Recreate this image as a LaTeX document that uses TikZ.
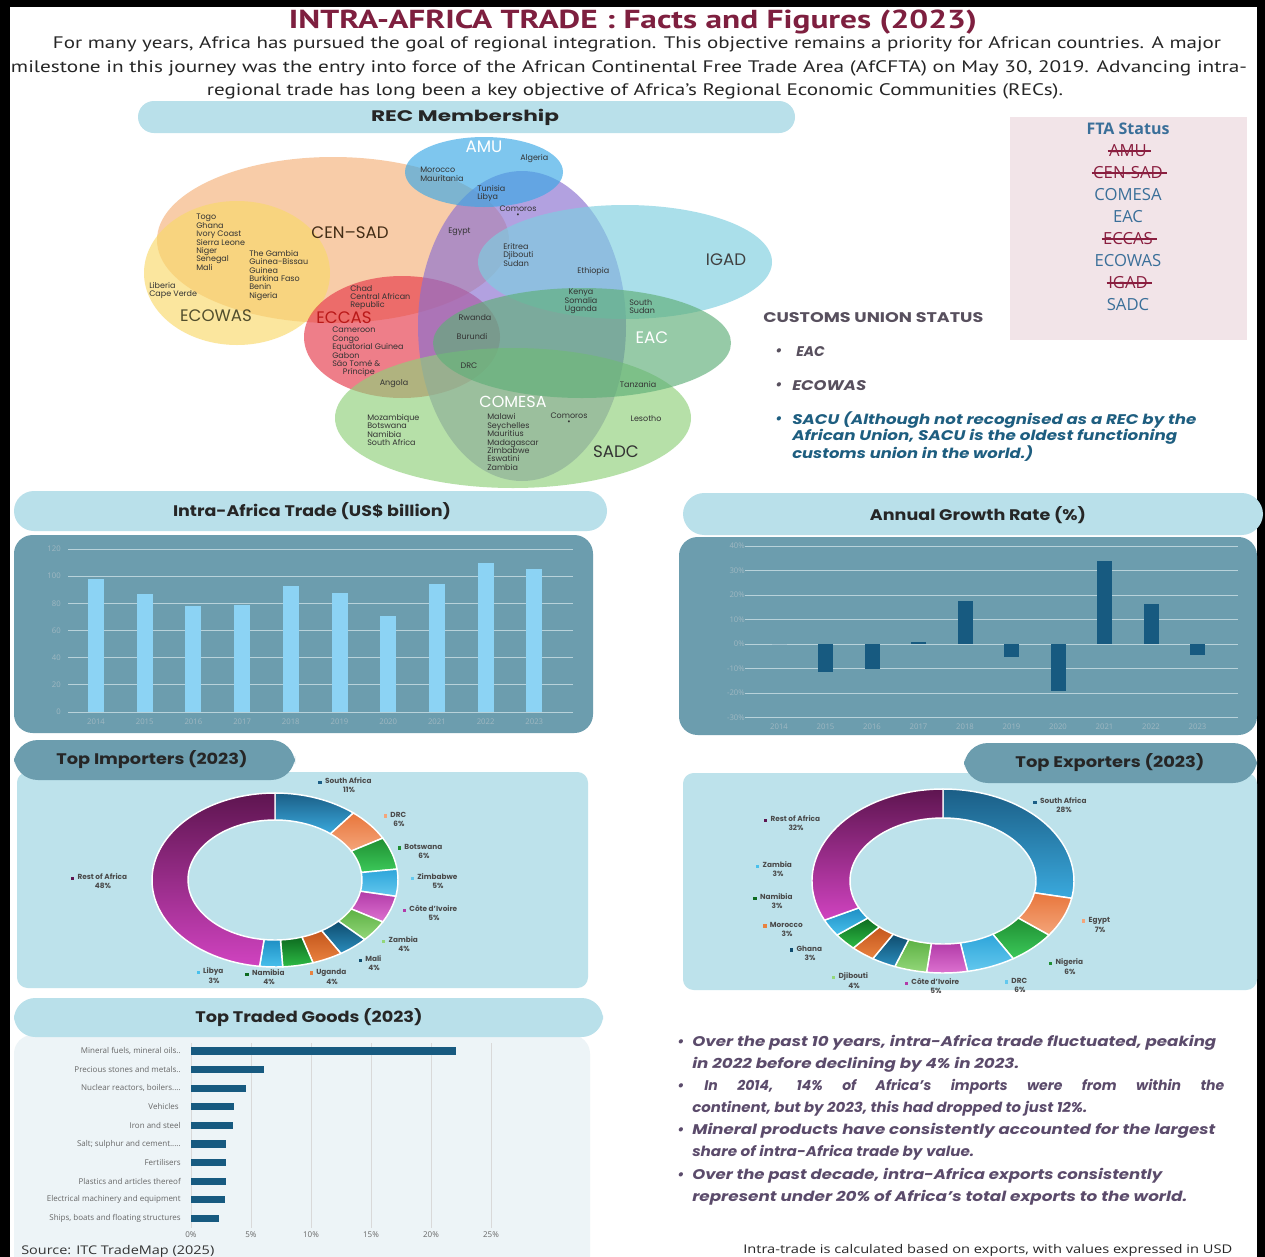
\documentclass[tikz,border=0pt]{standalone}
\usepackage{fontspec}
\usepackage{graphicx}
\setmainfont{Poppins}
\newfontfamily\condf{PT Sans}
\newfontfamily\osans{Open Sans}
\newdimen\fu \fu=0.75pt
\newcommand\fitw[2]{\resizebox{#1\fu}{\height}{#2}}
\usetikzlibrary{calc}
\definecolor{titlered}{HTML}{7E1F3F}
\definecolor{paratext}{HTML}{262626}
\definecolor{pillblue}{HTML}{B9E0EA}
\definecolor{tealpanel}{HTML}{6C9DAE}
\definecolor{lightpanel}{HTML}{BDE2EB}
\definecolor{goodspanel}{HTML}{EDF4F7}
\definecolor{barlight}{HTML}{8CD3F4}
\definecolor{bardark}{HTML}{175A80}
\definecolor{ftabox}{HTML}{F2E4E8}
\definecolor{ftablue}{HTML}{3A6F99}
\definecolor{ftastrike}{HTML}{8A1E3F}
\definecolor{cugray}{HTML}{58505E}
\definecolor{sacublue}{HTML}{1E5E80}
\definecolor{bulletpurple}{HTML}{5B4B6B}
\definecolor{gridc}{HTML}{B8D2DA}
\definecolor{axislbl}{HTML}{9FB8C2}
\definecolor{vtext}{HTML}{333333}
\definecolor{dlabc}{HTML}{4A4A4A}
% venn
\definecolor{cCEN}{HTML}{F5B27A}
\definecolor{cECO}{HTML}{F9D96A}
\definecolor{cAMU}{HTML}{3AA8E6}
\definecolor{cCOM}{HTML}{8A6FD0}
\definecolor{cIGA}{HTML}{7DCFE0}
\definecolor{cEAC}{HTML}{5FAF78}
\definecolor{cECC}{HTML}{E63A4A}
\definecolor{cSAD}{HTML}{8FD07A}
% slices
\definecolor{saT}{HTML}{1B5E86}\definecolor{saB}{HTML}{3AA9DD}
\definecolor{orT}{HTML}{E8763C}\definecolor{orB}{HTML}{F4A57A}
\definecolor{grT}{HTML}{1F8F32}\definecolor{grB}{HTML}{3CC95A}
\definecolor{lbT}{HTML}{2EA5DA}\definecolor{lbB}{HTML}{63C8EE}
\definecolor{mgT}{HTML}{B23BA8}\definecolor{mgB}{HTML}{DD72D0}
\definecolor{lgT}{HTML}{5DB143}\definecolor{lgB}{HTML}{93D77A}
\definecolor{dbT}{HTML}{0F4C6E}\definecolor{dbB}{HTML}{2A8DBD}
\definecolor{obT}{HTML}{C4561C}\definecolor{obB}{HTML}{E9823F}
\definecolor{dgT}{HTML}{0E6B20}\definecolor{dgB}{HTML}{2DBB45}
\definecolor{blT}{HTML}{1E8FC4}\definecolor{blB}{HTML}{48C0EC}
\definecolor{puT}{HTML}{5E1550}\definecolor{puB}{HTML}{D043C0}
\tikzset{
  venn/.style={fill=#1, fill opacity=0.65},
  vs/.style={font=\fontsize{6}{6.3}\selectfont, text=vtext, inner sep=0pt, align=left},
  vbig/.style={font=\fontsize{12.5}{14}\selectfont, inner sep=0pt},
  titlef/.style={font=\condf\bfseries\fontsize{19.5}{22}\selectfont, text=titlered, inner sep=0pt},
  paraf/.style={font=\condf\fontsize{12.5}{15}\selectfont, text=paratext, inner sep=0pt},
  headf/.style={font=\bfseries\fontsize{11.5}{13}\selectfont, text=black!85, inner sep=0pt},
  ftaf/.style={font=\osans\fontsize{12.5}{14}\selectfont, text=ftablue, inner sep=1pt},
  ftas/.style={font=\osans\fontsize{12.5}{14}\selectfont, text=ftastrike, inner sep=1pt},
  cuf/.style={font=\bfseries\itshape\fontsize{10.5}{12}\selectfont, inner sep=0pt, anchor=west},
  blf/.style={font=\bfseries\itshape\fontsize{10.5}{12}\selectfont, text=bulletpurple, inner sep=0pt, anchor=west},
  axl/.style={font=\osans\fontsize{5.8}{7}\selectfont, text=axislbl, inner sep=0pt},
  gl/.style={font=\osans\fontsize{6}{7}\selectfont, text=black!60, inner sep=0pt},
  dlab/.style={font=\bfseries\fontsize{5.5}{6}\selectfont, text=dlabc, inner sep=0pt},
  sep/.style={draw=white, line width=1.1pt}
}
\newcommand\dl[6]{\node[dlab] (#1) at (#2,#3) {\textcolor{#4}{\rule{2.5pt}{2.5pt}}\hspace{2.5pt}#5};
  \node[dlab] (#1p) at ({#2+4},{#3+8.5}) {#6};}
\begin{document}
\begin{tikzpicture}[x=0.75pt,y=-0.75pt]
\useasboundingbox (0,0) rectangle (1265,1257);
\fill[black] (0,0) rectangle (1265,1257);
\fill[white] (10,7) rectangle (1257,1257);

% ---------------- title
\node[titlef] (title) at (633,22) {\fitw{688}{INTRA-AFRICA TRADE : Facts and Figures (2023)}};
\node[paraf] (p1) at (637,44) {\fitw{1168}{For many years, Africa has pursued the goal of regional integration. This objective remains a priority for African countries. A major}};
\node[paraf] (p2) at (629,68) {\fitw{1236}{milestone in this journey was the entry into force of the African Continental Free Trade Area (AfCFTA) on May 30, 2019. Advancing intra-}};
\node[paraf] (p3) at (635,91) {\fitw{856}{regional trade has long been a key objective of Africa’s Regional Economic Communities (RECs).}};

% ---------------- REC membership
\fill[pillblue, rounded corners=12pt] (138,101) rectangle (795,133);
\node[headf] (rec) at (465,117) {\fitw{188}{REC Membership}};

\fill[venn=cCEN] (333,240) ellipse [x radius=176, y radius=83];
\fill[venn=cECO] (237,273) ellipse [x radius=93, y radius=72];
\fill[venn=cECC] (402,337) ellipse [x radius=98, y radius=61];
\fill[venn=cCOM] (522,326) ellipse [x radius=104, y radius=155];
\fill[venn=cIGA] (625,262) ellipse [x radius=147, y radius=57];
\fill[venn=cAMU] (484,172) ellipse [x radius=79, y radius=35];
\fill[venn=cSAD] (513,418) ellipse [x radius=178, y radius=70];
\fill[venn=cEAC] (582,343) ellipse [x radius=149, y radius=55];

\node[vbig, text=white] (lAMU) at (484,147) {AMU};
\node[vbig, text=black!65!brown] (lCEN) at (350,233) {CEN–SAD};
\node[vbig, text=black!75] (lIGAD) at (726,260) {IGAD};
\node[vbig, text=black!55!olive] (lECOWAS) at (216,316) {ECOWAS};
\node[vbig, text=red!70!black!90] (lECCAS) at (344,318) {ECCAS};
\node[vbig, text=white] (lEAC) at (652,338) {EAC};
\node[vbig, text=white, font=\fontsize{12}{13}\selectfont] (lCOMESA) at (513,402) {COMESA};
\node[vbig, text=black!80] (lSADC) at (616,452) {SADC};

\node[vs, anchor=west] (algeria) at (520,159) {Algeria};
\node[vs, anchor=north west] (mormau) at (420,167) {Morocco\\Mauritania};
\node[vs, anchor=north west] (tunlib) at (477,185) {Tunisia\\Libya};
\node[vs] (comoros1) at (518,209) {Comoros};
\node[vs] (dot1) at (518,216) {•};
\node[vs, anchor=west] (egypt) at (448,232) {Egypt};
\node[vs, anchor=north west] (eds) at (503,243) {Eritrea\\Djibouti\\Sudan};
\node[vs, anchor=west] (eth) at (577,271) {Ethiopia};
\node[vs, anchor=north, align=center] (kenya) at (581,289) {Kenya\\Somalia\\Uganda};
\node[vs, anchor=north west] (ssudan) at (629,299) {South\\Sudan};
\node[vs, anchor=north west] (togo) at (196,214) {Togo\\Ghana\\Ivory Coast\\Sierra Leone\\Niger\\Senegal\\Mali};
\node[vs, anchor=north west] (gambia) at (249,250) {The Gambia\\Guinea-Bissau\\Guinea\\Burkina Faso\\Benin\\Nigeria};
\node[vs, anchor=north west] (liberia) at (149,282) {Liberia\\Cape Verde};
\node[vs, anchor=north west] (chad) at (350,285) {Chad\\Central African\\Republic};
\node[vs, anchor=north west] (cameroon) at (332,327) {Cameroon\\Congo\\Equatorial Guinea\\Gabon\\São Tomé \&\\\hspace*{8pt}Príncipe};
\node[vs] (angola) at (394,384) {Angola};
\node[vs] (rwanda) at (475,318) {Rwanda};
\node[vs] (burundi) at (472,336) {Burundi};
\node[vs] (drc) at (469,366) {DRC};
\node[vs] (tanz) at (638,384) {Tanzania};
\node[vs, anchor=north west] (moz) at (367,414) {Mozambique\\Botswana\\Namibia\\South Africa};
\node[vs, anchor=north west] (malawi) at (487,413.5) {Malawi\\Seychelles\\Mauritius\\Madagascar\\Zimbabwe\\Eswatini\\Zambia};
\node[vs] (comoros2) at (569,416) {Comoros};
\node[vs] (dot2) at (569,423) {•};
\node[vs] (lesotho) at (646,419) {Lesotho};

% ---------------- FTA status
\fill[ftabox] (1010,117) rectangle (1247,340);
\node[ftaf, font=\osans\bfseries\fontsize{12}{14}\selectfont] (fta) at (1128,129) {FTA Status};
\node[ftas] (fAMU) at (1128,151) {AMU};
\node[ftas] (fCEN) at (1128,173) {CEN-SAD};
\node[ftaf] (fCOM) at (1128,195) {COMESA};
\node[ftaf] (fEAC) at (1128,217) {EAC};
\node[ftas] (fECC) at (1128,239) {ECCAS};
\node[ftaf] (fECO) at (1128,261) {ECOWAS};
\node[ftas] (fIGA) at (1128,283) {IGAD};
\node[ftaf] (fSAD) at (1128,305) {SADC};
\foreach \n in {fAMU,fCEN,fECC,fIGA}
  \draw[ftastrike, line width=0.8pt] (\n.west) -- ([xshift=2pt]\n.east);

% ---------------- customs union
\node[font=\bfseries\fontsize{10.5}{12}\selectfont, text=cugray, inner sep=0pt, anchor=west] (cu) at (763,318) {\fitw{220}{CUSTOMS UNION STATUS}};
\node[cuf, text=cugray] (cud1) at (775,352) {•};
\node[cuf, text=cugray] (cu1) at (796,352) {EAC};
\node[cuf, text=cugray] (cud2) at (775,386) {•};
\node[cuf, text=cugray] (cu2) at (792,386) {\fitw{74}{ECOWAS}};
\node[cuf, text=sacublue] (cud3) at (775,420) {•};
\node[cuf, text=sacublue] (cu3) at (792,420) {\fitw{404}{SACU (Although not recognised as a REC by the}};
\node[cuf, text=sacublue] (cu4) at (792,437) {\fitw{385}{African Union, SACU is the oldest functioning}};
\node[cuf, text=sacublue] (cu5) at (792,454) {\fitw{241}{customs union in the world.)}};

% ---------------- chart 1
\fill[tealpanel, rounded corners=14pt] (14,535) rectangle (593,733);
\fill[pillblue, rounded corners=15pt] (14,491) rectangle (607,531);
\node[headf] (h1) at (312,511) {\fitw{278}{Intra-Africa Trade (US\$ billion)}};
\foreach \v in {0,20,...,120}{
  \draw[gridc, line width=0.6pt] (68,{712-1.358*\v}) -- (573,{712-1.358*\v});
  \node[axl, anchor=east] (ya\v) at (61,{712-1.358*\v}) {\v};
}
\foreach \i/\v [evaluate=\i as \yr using int(2014+\i)] in {0/98,1/87,2/78,3/79,4/92.5,5/87.5,6/71,7/94.5,8/110,9/105.5}{
  \fill[barlight] ({96+48.7*\i-8},712) rectangle ({96+48.7*\i+8},{712-1.358*\v});
  \node[axl] (xa\i) at ({96+48.7*\i},722) {\yr};
}

% ---------------- chart 2
\fill[tealpanel, rounded corners=14pt] (679,537) rectangle (1257,735);
\fill[pillblue, rounded corners=16pt] (683,493) rectangle (1263,535);
\node[headf] (h2) at (978,515) {\fitw{216}{Annual Growth Rate (\%)}};
\foreach \v in {-30,-20,...,40}{
  \draw[gridc, line width=0.6pt] (745,{644-2.45*\v}) -- (1238,{644-2.45*\v});
  \node[axl, anchor=east] (yb\v) at (745,{644-2.45*\v}) {\v\%};
}
\foreach \i/\v [evaluate=\i as \yr using int(2014+\i)] in {0/0,1/-11.5,2/-10.2,3/1,4/17.5,5/-5.5,6/-19,7/33.8,8/16.3,9/-4.4}{
  \fill[bardark] ({779+46.5*\i-7.5},644) rectangle ({779+46.5*\i+7.5},{644-2.45*\v});
  \node[axl] (xb\i) at ({779+46.5*\i},727) {\yr};
}

% ---------------- importers
\fill[lightpanel, rounded corners=8pt] (17,772) rectangle (588,988);
\fill[tealpanel, rounded corners=18pt] (14,740) rectangle (295,780);
\node[headf] (h3) at (152,760) {\fitw{191}{Top Importers (2023)}};
\begin{scope}[shift={(275,880)}]
\def\Rx{123}\def\Ry{87}\def\rx{87}\def\ry{60}
\foreach \s/\e/\ct/\cb in {0/11/saT/saB, 11/17/orT/orB, 17/23/grT/grB, 23/28/lbT/lbB, 28/33/mgT/mgB, 33/37/lgT/lgB, 37/41/dbT/dbB, 41/45/obT/obB, 45/49/dgT/dgB, 49/52/blT/blB, 52/100/puT/puB}{
  \pgfmathsetmacro\aa{-90+3.6*\s}
  \pgfmathsetmacro\bb{-90+3.6*\e}
  \path[sep, top color=\ct, bottom color=\cb] ({\Rx*cos(\aa)},{\Ry*sin(\aa)}) arc[start angle=\aa, end angle=\bb, x radius=\Rx, y radius=\Ry] -- ({\rx*cos(\bb)},{\ry*sin(\bb)}) arc[start angle=\bb, end angle=\aa, x radius=\rx, y radius=\ry] -- cycle;
}
\end{scope}
\dl{iSA}{345}{781}{saT}{South Africa}{11\%}
\dl{iDRC}{395}{815}{orB}{DRC}{6\%}
\dl{iBOT}{420}{847}{grT}{Botswana}{6\%}
\dl{iZIM}{434}{877}{lbB}{Zimbabwe}{5\%}
\dl{iCIV}{430}{909}{mgT}{Côte d’Ivoire}{5\%}
\dl{iZAM}{400}{940}{lgB}{Zambia}{4\%}
\dl{iMAL}{370}{959}{dbT}{Mali}{4\%}
\dl{iUGA}{328}{973}{obB}{Uganda}{4\%}
\dl{iNAM}{265}{973}{dgT}{Namibia}{4\%}
\dl{iLIB}{210}{972}{blB}{Libya}{3\%}
\dl{iRST}{99}{877}{puT}{Rest of Africa}{48\%}

% ---------------- exporters
\fill[lightpanel, rounded corners=8pt] (683,773) rectangle (1257,990);
\fill[tealpanel, rounded corners=18pt] (964,743) rectangle (1257,783);
\node[headf] (h4) at (1110,763) {\fitw{189}{Top Exporters (2023)}};
\begin{scope}[shift={(943,881)}]
\def\Rx{131}\def\Ry{92}\def\rx{93}\def\ry{63}
\foreach \s/\e/\ct/\cb in {0/28/saT/saB, 28/35/orT/orB, 35/41/grT/grB, 41/47/lbT/lbB, 47/52/mgT/mgB, 52/56/lgT/lgB, 56/59/dbT/dbB, 59/62/obT/obB, 62/65/dgT/dgB, 65/68/blT/blB, 68/100/puT/puB}{
  \pgfmathsetmacro\aa{-90+3.6*\s}
  \pgfmathsetmacro\bb{-90+3.6*\e}
  \path[sep, top color=\ct, bottom color=\cb] ({\Rx*cos(\aa)},{\Ry*sin(\aa)}) arc[start angle=\aa, end angle=\bb, x radius=\Rx, y radius=\Ry] -- ({\rx*cos(\bb)},{\ry*sin(\bb)}) arc[start angle=\bb, end angle=\aa, x radius=\rx, y radius=\ry] -- cycle;
}
\end{scope}
\dl{eSA}{1060}{801}{saT}{South Africa}{28\%}
\dl{eEGY}{1096}{921}{orB}{Egypt}{7\%}
\dl{eNIG}{1066}{963}{grT}{Nigeria}{6\%}
\dl{eDRC}{1016}{981}{lbB}{DRC}{6\%}
\dl{eCIV}{932}{982}{mgT}{Côte d’Ivoire}{5\%}
\dl{eDJI}{850}{977}{lgB}{Djibouti}{4\%}
\dl{eGHA}{806}{949}{dbT}{Ghana}{3\%}
\dl{eMOR}{783}{925}{obB}{Morocco}{3\%}
\dl{eNAM}{773}{897}{dgT}{Namibia}{3\%}
\dl{eZAM}{774}{865}{blB}{Zambia}{3\%}
\dl{eRST}{792}{819}{puT}{Rest of Africa}{32\%}

% ---------------- goods
\fill[goodspanel, rounded corners=14pt] (14,1035) rectangle (590,1275);
\fill[pillblue, rounded corners=16pt] (14,998) rectangle (603,1037);
\node[headf] (h5) at (309,1018) {\fitw{227}{Top Traded Goods (2023)}};
\foreach \p in {0,5,...,25}{
  \draw[black!15, line width=0.6pt] ({191+12*\p},1043) -- ({191+12*\p},1228);
  \node[gl] (gx\p) at ({191+12*\p},1235) {\p\%};
}
\foreach \i/\v/\t in {0/22.1/{Mineral fuels, mineral oils..}, 1/6.1/{Precious stones and metals..}, 2/4.6/{Nuclear reactors, boilers....}, 3/3.6/{Vehicles\ \ }, 4/3.5/{Iron and steel}, 5/2.9/{Salt; sulphur and cement.....}, 6/2.9/{Fertilisers}, 7/2.9/{Plastics and articles thereof}, 8/2.8/{Electrical machinery and equipment\ }, 9/2.3/{Ships, boats and floating structures}}{
  \fill[bardark] (191,{1051+18.6*\i-3.6}) rectangle ({191+12*\v},{1051+18.6*\i+3.6});
  \node[gl, anchor=east] (gl\i) at (181,{1051+18.6*\i}) {\t};
}
\node[font=\osans\fontsize{9}{11}\selectfont, text=black!80, anchor=west, inner sep=0pt] (src) at (21,1251) {\fitw{193}{Source: ITC TradeMap (2025)}};

% ---------------- key facts
\node[blf] (bd1) at (677,1043) {•};
\node[blf] (b1) at (692,1043) {\fitw{524}{Over the past 10 years, intra-Africa trade fluctuated, peaking}};
\node[blf] (b2) at (692,1065) {\fitw{327}{in 2022 before declining by 4\% in 2023.}};
\node[blf] (bd2) at (677,1087) {•};
\node[blf] (b3) at (704,1087) {\makebox[520\fu][s]{In 2014, 14\% of Africa’s imports were from within the}};
\node[blf] (b4) at (692,1109) {\fitw{395}{continent, but by 2023, this had dropped to just 12\%.}};
\node[blf] (bd3) at (677,1131) {•};
\node[blf] (b5) at (692,1131) {\fitw{523}{Mineral products have consistently accounted for the largest}};
\node[blf] (b6) at (692,1153) {\fitw{282}{share of intra-Africa trade by value.}};
\node[blf] (bd4) at (677,1176) {•};
\node[blf] (b7) at (692,1176) {\fitw{470}{Over the past decade, intra-Africa exports consistently}};
\node[blf] (b8) at (692,1198) {\fitw{495}{represent under 20\% of Africa’s total exports to the world.}};
\node[font=\osans\fontsize{9}{11}\selectfont, text=black!85, anchor=west, inner sep=0pt] (foot) at (743,1250) {\fitw{489}{Intra-trade is calculated based on exports, with values expressed in USD}};
\end{tikzpicture}
\end{document}
